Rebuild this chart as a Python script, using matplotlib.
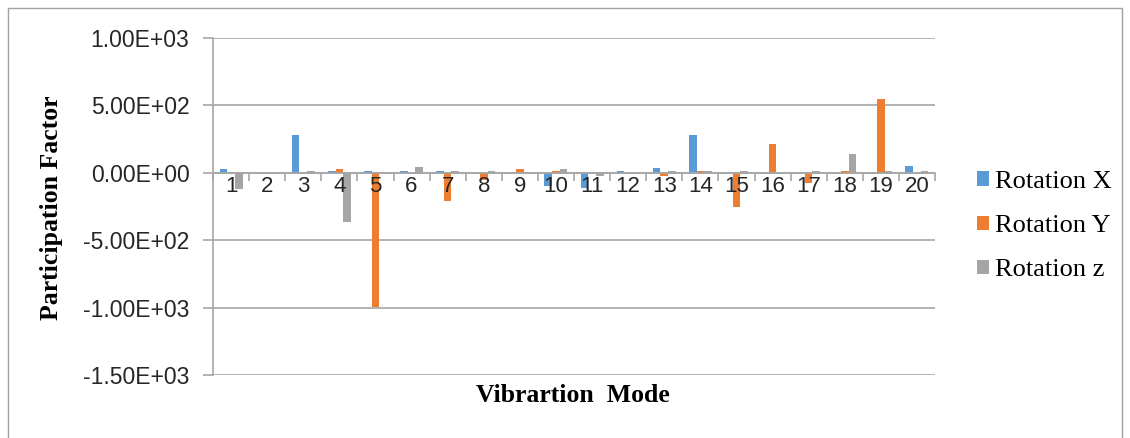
import matplotlib.pyplot as plt
import numpy as np
from matplotlib.ticker import FuncFormatter
from matplotlib.patches import Rectangle

# values
modes = [str(i) for i in range(1, 21)]
rot_x = [25, 0, 282, 15, 15, 15, 12, 0, 0, -101, -111, 15, 32, 281, 0, 0, 0, 0, 0, 52]
rot_y = [0, 0, 0, 27, -993, 0, -207, -52, 25, 12, 0, 0, -25, 12, -250, 215, -72, 10, 546, 0]
rot_z = [-120, 0, 12, -363, 0, 40, 10, 15, 0, 27, -22, 0, 15, 12, 10, 0, 10, 136, 10, 10]
series_names = ['Rotation X', 'Rotation Y', 'Rotation z']
colors = ['#5B9BD5', '#ED7D31', '#A5A5A5']

fig = plt.figure(figsize=(11.3, 4.38), dpi=100)
ax = fig.add_axes([213/1130, 1-375/438, (935-213)/1130, (375-38)/438])

x = np.arange(1, len(modes) + 1)
w = 0.213
for i, (vals, name, c) in enumerate(zip([rot_x, rot_y, rot_z], series_names, colors)):
    ax.bar(x + (i - 1) * w, vals, width=w, color=c, label=name, zorder=3)

ax.set_xlim(0.5, 20.5)
ax.set_ylim(-1500, 1000)
ax.set_yticks([-1500, -1000, -500, 0, 500, 1000])
ax.yaxis.set_major_formatter(FuncFormatter(lambda v, p: f'{v:.2E}'))
ax.grid(axis='y', color='#a6a6a6', linewidth=1.2, zorder=0)
ax.yaxis.set_zorder(0.5)
ax.xaxis.set_zorder(5)

for s in ['top', 'right']:
    ax.spines[s].set_visible(False)
ax.spines['left'].set_color('#a6a6a6')
ax.spines['left'].set_linewidth(1.2)
ax.spines['bottom'].set_position(('data', 0))
ax.spines['bottom'].set_color('#a6a6a6')
ax.spines['bottom'].set_linewidth(1.2)
ax.spines['bottom'].set_zorder(4)

ax.set_xticks(x)
ax.set_xticklabels(modes)
ax.set_xticks(np.arange(0.5, 21, 1), minor=True)
ax.tick_params(axis='x', which='major', length=0, pad=2, labelsize=16,
               labelfontfamily='Liberation Sans', colors='#262626')
ax.tick_params(axis='x', which='minor', length=6, width=1.2, color='#a6a6a6', direction='out')
ax.tick_params(axis='y', length=7, width=1.2, color='#a6a6a6', pad=10,
               labelsize=16.5, labelfontfamily='Liberation Sans', labelcolor='#262626')

fig.text(52/1130, 1-208/438, 'Participation Factor', rotation=90, ha='center', va='center',
         fontfamily='Liberation Serif', fontweight='bold', fontsize=18.5)
fig.text(573/1130, 1-395/438, 'Vibrartion  Mode', ha='center', va='center',
         fontfamily='Liberation Serif', fontweight='bold', fontsize=18.5)

ax.legend(loc='center left', bbox_to_anchor=(977/1130, 1-226/438), bbox_transform=fig.transFigure,
          frameon=False, handlelength=0.45, handleheight=0.45, handletextpad=0.25,
          borderpad=0, borderaxespad=0, labelspacing=0.84,
          prop={'family': 'Liberation Serif', 'size': 19})

fig.patches.append(Rectangle((8/1130, -0.05), 1114/1130, 1 - 8/438 + 0.05, transform=fig.transFigure,
                             fill=False, edgecolor='#a0a0a0', linewidth=1))

fig.savefig('out.png', dpi=100)
